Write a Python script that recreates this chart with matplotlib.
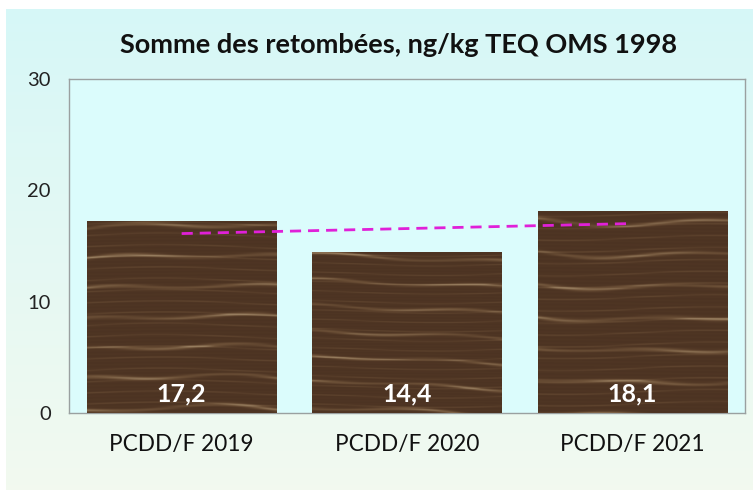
import numpy as np
import matplotlib
matplotlib.use("Agg")
import matplotlib.pyplot as plt
from matplotlib.colors import LinearSegmentedColormap

categories = ["PCDD/F 2019", "PCDD/F 2020", "PCDD/F 2021"]
values = [17.2, 14.4, 18.1]
value_labels = ["17,2", "14,4", "18,1"]
yticks = [0, 10, 20, 30]
title = "Somme des retombées, ng/kg TEQ OMS 1998"

plt.rcParams['font.family'] = ['Lato', 'DejaVu Sans']

W, H = 753, 490
fig = plt.figure(figsize=(W / 100, H / 100), dpi=100)

# background gradient card
bg = fig.add_axes([0, 0, 1, 1], zorder=-10)
bg.set_axis_off()
gy = np.linspace(0, 1, 200)[:, None]
gx = np.linspace(0, 1, 200)[None, :]
top = np.array([0.84, 0.97, 0.97])
bot = np.array([0.95, 0.98, 0.94])
t = gy * np.ones_like(gx)
img = top[None, None, :] * (1 - t[..., None]) + bot[None, None, :] * t[..., None]
bg.imshow(img, extent=[6 / W, 1, 0, 1 - 10 / H], aspect='auto', origin='upper')
bg.set_xlim(0, 1)
bg.set_ylim(0, 1)

ax = fig.add_axes([69 / W, (H - 413) / H, (745 - 69) / W, (413 - 79) / H])
ax.set_facecolor((0.86, 0.99, 0.99))
x = np.arange(len(categories))
bars = ax.bar(x, values, width=0.84, color=(0.29, 0.2, 0.14), zorder=2)

# wood texture (decorative)
wood = LinearSegmentedColormap.from_list(
    "wood", [(0.0, (0.23, 0.15, 0.10)), (0.5, (0.31, 0.21, 0.14)),
             (0.8, (0.43, 0.32, 0.22)), (1.0, (0.60, 0.50, 0.38))])
for k, b in enumerate(bars):
    h, w = 300, 300
    u = np.linspace(0, 1, w)[None, :]
    v = np.linspace(0, 1, h)[:, None]
    bend = np.exp(-((u - 0.1) ** 2) / 0.08) * np.exp(-((v - 0.8) ** 2) / 0.02)
    phase = 6.3 * v + 0.15 * np.sin(2.5 * u + k * 1.7) + 0.09 * bend \
        + 0.08 * np.sin(7 * u + 3 * v + k)
    grain = np.sin(2 * np.pi * phase)
    streak = np.clip(grain, 0, 1) ** 14 * (0.55 + 0.45 * np.sin(3.1 * u + 5 * v + k) ** 2)
    phase2 = 17 * v + 0.2 * np.sin(4 * u + k * 2.1)
    fine = np.clip(np.sin(2 * np.pi * phase2), 0, 1) ** 10
    fine3 = 0.5 + 0.5 * np.sin(2 * np.pi * (55 * v + 0.3 * np.sin(2 * u + k)))
    tex = 0.42 + 0.45 * streak + 0.18 * fine + 0.08 * fine3
    tex = np.clip(tex, 0, 1)
    ax.imshow(tex, cmap=wood, vmin=0, vmax=1, aspect='auto', origin='upper',
              extent=[b.get_x(), b.get_x() + b.get_width(), 0, b.get_height()],
              zorder=3, interpolation='bilinear')

for xi, lab in zip(x, value_labels):
    ax.text(xi, 1.7, lab, color='white', fontsize=18, fontweight='bold',
            ha='center', va='center', zorder=5)

# linear trend
coef = np.polyfit(x, values, 1)
ax.plot([x[0], x[-1]], np.polyval(coef, [x[0], x[-1]]), color='#e020d8',
        linestyle=(0, (4, 2.5)), linewidth=2, zorder=4)

ax.set_xlim(-0.5, len(categories) - 0.5)
ax.set_ylim(0, 30)
ax.set_yticks(yticks)
ax.set_yticklabels([str(t) for t in yticks], fontsize=14.5, color='#222222')
ax.set_xticks(x)
ax.set_xticklabels(categories, fontsize=16.3, color='#111111')
ax.tick_params(axis='both', length=0)
ax.tick_params(axis='y', pad=13)
ax.tick_params(axis='x', pad=15)
for s in ax.spines.values():
    s.set_color('#9aa0a0')
    s.set_linewidth(1)

fig.text(398 / W, 1 - 45 / H, title, fontsize=19.5, fontweight='bold',
         ha='center', va='center', color='#111111')

fig.savefig("out.png", dpi=100)
